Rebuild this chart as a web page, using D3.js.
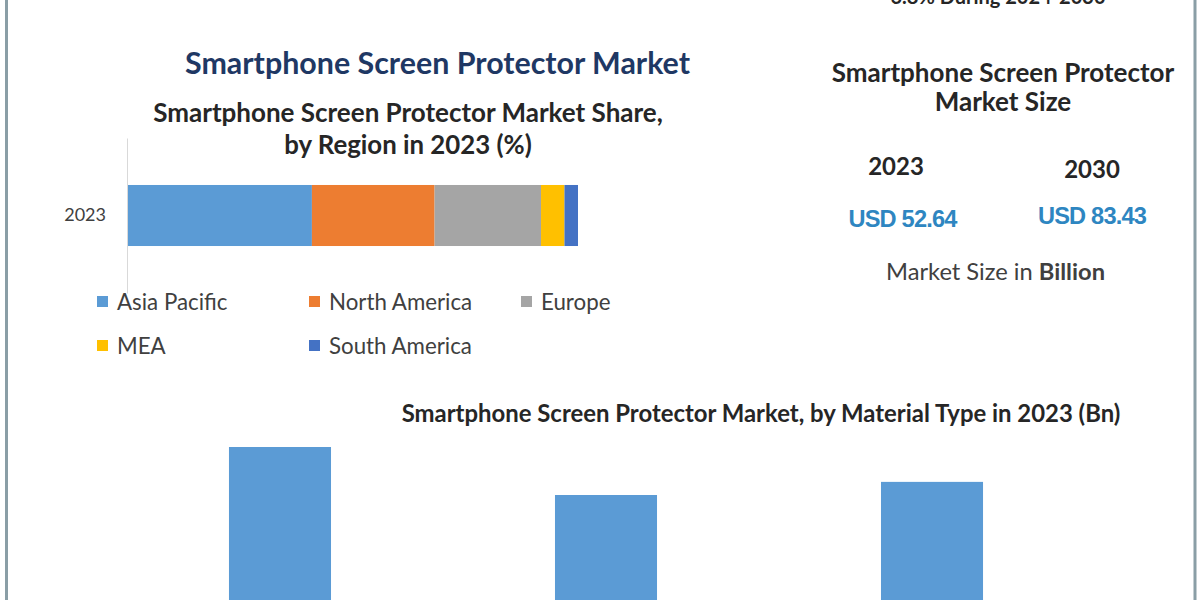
<!DOCTYPE html>
<html>
<head>
<meta charset="utf-8">
<script src="https://cdnjs.cloudflare.com/ajax/libs/d3/7.8.5/d3.min.js"></script>
<style>
  html, body { margin: 0; padding: 0; background: #fff; overflow: hidden; }
  text { font-family: Lato, "Open Sans", sans-serif; }
</style>
</head>
<body>
<svg id="chart" width="1200" height="600"></svg>
<script>
// values
var regions = ['Asia Pacific', 'North America', 'Europe', 'MEA', 'South America'];
var regionShare = [41, 27.2, 23.6, 5.2, 3];
var regionColors = ['#5b9bd5', '#ed7d31', '#a5a5a5', '#ffc000', '#4472c4'];
var shareYear = ['2023'];

var materials = ['Type A', 'Type B', 'Type C'];
var materialValues = [21, 15, 16.64];

var sizeYears = ['2023', '2030'];
var sizeValues = ['USD 52.64', 'USD 83.43'];

var svg = d3.select('#chart');

function label(x, y, str, size, weight, fill) {
  return svg.append('text')
    .attr('x', x).attr('y', y)
    .attr('text-anchor', 'middle')
    .attr('font-size', size)
    .attr('font-weight', weight || 400)
    .attr('fill', fill || '#262626')
    .text(str);
}

// frame
svg.append('line').attr('x1', 6.5).attr('x2', 6.5).attr('y1', 0).attr('y2', 600)
  .attr('stroke', '#8a9ea6').attr('stroke-width', 3);
svg.append('line').attr('x1', 1195).attr('x2', 1195).attr('y1', 0).attr('y2', 600)
  .attr('stroke', '#8a9ea6').attr('stroke-width', 3);

// titles
label(437.5, 74, 'Smartphone Screen Protector Market', 30.4, 700, '#1f3864');
label(408, 122, 'Smartphone Screen Protector Market Share,', 26, 700);
label(408, 154, 'by Region in 2023 (%)', 25.8, 700);
label(998, 4, '6.8% During 2024-2030', 20, 700);
label(1003, 82, 'Smartphone Screen Protector', 26, 700);
label(1003, 111, 'Market Size', 26, 700);

// market share stacked bar
var x = d3.scaleLinear().domain([0, 100]).range([127, 578]);
var y = d3.scaleBand().domain(shareYear).range([138, 293]).padding(0.435);

var stackData = [{}];
regions.forEach(function(r, i) { stackData[0][r] = regionShare[i]; });
var stacked = d3.stack().keys(regions)(stackData);

svg.append('g').selectAll('rect')
  .data(stacked).enter()
  .append('rect')
  .attr('x', function(d) { return x(d[0][0]); })
  .attr('width', function(d) { return x(d[0][1]) - x(d[0][0]); })
  .attr('y', y(shareYear[0]))
  .attr('height', y.bandwidth())
  .attr('fill', function(d, i) { return regionColors[i]; });

var yAxis = svg.append('g')
  .attr('transform', 'translate(127,0)')
  .call(d3.axisLeft(y).tickSize(0).tickPadding(21));
yAxis.select('.domain').attr('stroke', '#d9d9d9');
yAxis.selectAll('text').attr('font-size', 18).attr('fill', '#404040')
  .style('font-family', 'Lato, sans-serif');

// legend
var legendX = [117, 329, 541, 117, 329];
var legendY = [302, 302, 302, 346, 346];
var legend = svg.append('g').selectAll('g')
  .data(regions).enter()
  .append('g')
  .attr('transform', function(d, i) { return 'translate(' + legendX[i] + ',' + legendY[i] + ')'; });
legend.append('rect')
  .attr('x', -20).attr('y', -6).attr('width', 11).attr('height', 11)
  .attr('fill', function(d, i) { return regionColors[i]; });
legend.append('text')
  .attr('y', 7.5)
  .attr('font-size', 22.3)
  .attr('fill', '#404040')
  .text(function(d) { return d; });

// market size block
var sizeX = [896, 1092];
var valueX = [902.5, 1092];
var yearY = [175, 178];
var valueY = [227, 224];
sizeYears.forEach(function(yr, i) {
  label(sizeX[i], yearY[i], yr, 24, 700);
  label(valueX[i], valueY[i], sizeValues[i], 23.6, 700, '#2e86c1')
    .style('font-family', 'Liberation Sans, sans-serif')
    .attr('letter-spacing', -0.8);
});
var sizeNote = label(995.5, 280, 'Market Size in ', 23.7, 400, '#404040');
sizeNote.append('tspan').attr('font-weight', 700).text('Billion');

// material type bars, the bottom is cut off by the picture edge
label(761, 422, 'Smartphone Screen Protector Market, by Material Type in 2023 (Bn)', 23.9, 700);

var xm = d3.scaleBand().domain(materials).range([5, 1207]).padding(0.687);
var ym = d3.scaleLinear().domain([0, 21]).range([615, 447]);

svg.append('g').selectAll('rect')
  .data(materials).enter()
  .append('rect')
  .attr('x', function(d) { return xm(d); })
  .attr('width', xm.bandwidth())
  .attr('y', function(d, i) { return ym(materialValues[i]); })
  .attr('height', function(d, i) { return ym(0) - ym(materialValues[i]); })
  .attr('fill', '#5b9bd5');
</script>
</body>
</html>
